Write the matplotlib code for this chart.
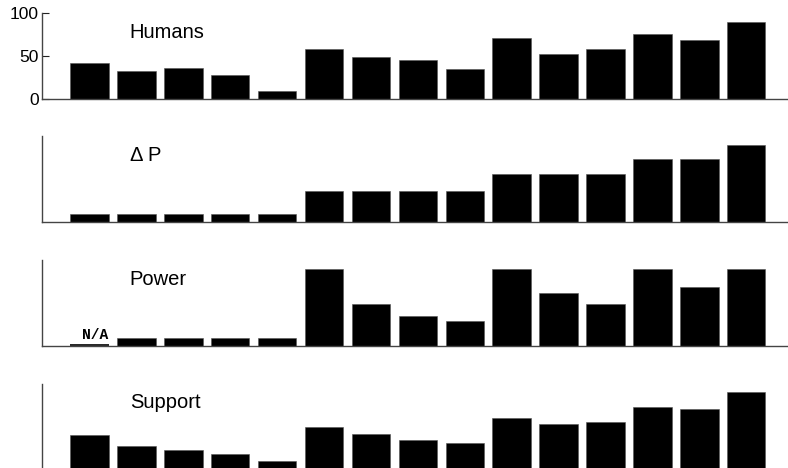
import numpy as np
import matplotlib
matplotlib.use("Agg")
import matplotlib.pyplot as plt

plt.rcParams['font.family'] = ['Liberation Sans', 'DejaVu Sans']

conditions = list(range(1, 16))
panel_titles = ["Humans", "\u0394 P", "Power", "Support"]
humans = [42, 33, 36.5, 28, 9, 58, 49, 45.5, 35, 71, 52.5, 58, 76, 69, 90]
delta_p = [9.5, 9.5, 9.5, 9.5, 9.5, 36, 36, 36, 36, 55.5, 55.5, 55.5, 73.5, 73.5, 90]
power = [0, 9.3, 9.3, 9.3, 9.3, 89.5, 48.3, 34.7, 28.5, 89.5, 61.8, 48.3, 89.5, 68.8, 89.5]
support = [40, 27, 22, 18, 9.7, 49.4, 41.2, 33.8, 30.7, 59.9, 52.9, 55.2, 72.3, 70.4, 89.8]
series = [humans, delta_p, power, support]
na_label = "N/A"
yticks_top = [0, 50, 100]

W, H = 788, 468
fig = plt.figure(figsize=(W / 100, H / 100), dpi=100)

tops_px = [13.3, 136.3, 260.0, 383.5]
ax_h_px = 85.8
left_px = 42

x = np.arange(len(conditions))
for k, (vals, title, top) in enumerate(zip(series, panel_titles, tops_px)):
    bottom_px = top + ax_h_px
    ax = fig.add_axes([left_px / W, 1 - bottom_px / H, 1 - left_px / W, ax_h_px / H])
    ax.bar(x, vals, width=0.82, color='black', edgecolor='#555555', linewidth=0.4)
    ax.set_xlim(-1.013, 14.89)
    ax.set_ylim(0, 100)
    for s in ['top', 'right']:
        ax.spines[s].set_visible(False)
    for s in ['left', 'bottom']:
        ax.spines[s].set_color('#444444')
        ax.spines[s].set_linewidth(1.0)
    ax.set_xticks([])
    if k == 0:
        ax.set_yticks(yticks_top)
        ax.set_yticklabels([str(v) for v in yticks_top], fontsize=12.5)
        ax.tick_params(axis='y', direction='in', length=5, width=0.8, pad=2.5, colors='#222222', labelcolor='black')
    else:
        ax.set_yticks([])
    ax.text(0.86, 71, title, fontsize=14.5, ha='left', va='baseline', color='black')
    if k == 2:
        ax.plot([x[0] - 0.41, x[0] + 0.41], [0.6, 0.6], color='black', lw=1.2, solid_capstyle='butt')
        ax.text(x[0] + 0.12, 7.5, na_label, fontsize=10.5, fontweight='bold',
                family=['Liberation Mono', 'DejaVu Sans Mono'], ha='center', va='baseline')

fig.savefig("out.png", dpi=100)
